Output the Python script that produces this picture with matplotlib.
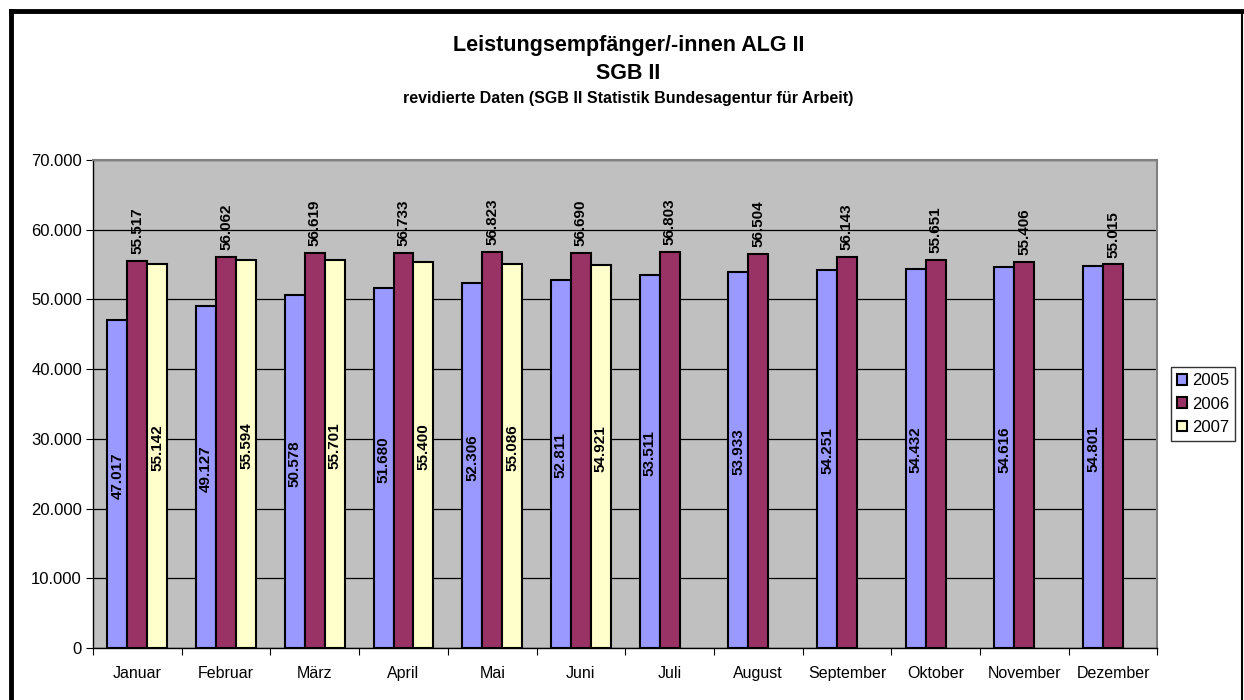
import numpy as np
import matplotlib
matplotlib.use("Agg")
import matplotlib.pyplot as plt
from matplotlib.lines import Line2D
from matplotlib.ticker import FuncFormatter

plt.rcParams['font.family'] = ['Liberation Sans', 'DejaVu Sans']

# data
months = ['Januar', 'Februar', 'März', 'April', 'Mai', 'Juni', 'Juli',
          'August', 'September', 'Oktober', 'November', 'Dezember']
v2005 = [47017, 49127, 50578, 51680, 52306, 52811, 53511, 53933, 54251, 54432, 54616, 54801]
v2006 = [55517, 56062, 56619, 56733, 56823, 56690, 56803, 56504, 56143, 55651, 55406, 55015]
v2007 = [55142, 55594, 55701, 55400, 55086, 54921]

def de_fmt(v):
    return f'{v:,.0f}'.replace(',', '.')

fig = plt.figure(figsize=(12.44, 7.0), dpi=100)
ax = fig.add_axes([0.0748, 0.0743, 0.8556, 0.6971])
ax.set_facecolor('#C0C0C0')

x = np.arange(len(months))
w = 0.225
b05 = ax.bar(x - w, v2005, w, color='#9999FF', edgecolor='black', linewidth=1.5, label='2005', zorder=3)
b06 = ax.bar(x, v2006, w, color='#993366', edgecolor='black', linewidth=1.5, label='2006', zorder=3)
b07 = ax.bar(x[:len(v2007)] + w, v2007, w, color='#FFFFCC', edgecolor='black', linewidth=1.5, label='2007', zorder=3)

lab_kw = dict(rotation=90, fontsize=11, fontweight='bold')
for xi, v in zip(x - w, v2005):
    ax.text(xi, v / 2 + 1200, de_fmt(v), ha='center', va='center', zorder=4, **lab_kw)
for xi, v in zip(x[:len(v2007)] + w, v2007):
    ax.text(xi, v / 2 + 1200, de_fmt(v), ha='center', va='center', zorder=4, **lab_kw)
for xi, v in zip(x, v2006):
    ax.annotate(de_fmt(v), (xi, v), xytext=(0, 5), textcoords='offset points',
                ha='center', va='bottom', zorder=4, **lab_kw)

ax.set_xlim(-0.5, len(months) - 0.5)
ax.set_ylim(0, 70000)
ax.set_yticks(np.arange(0, 70001, 10000))
ax.yaxis.set_major_formatter(FuncFormatter(lambda v, p: de_fmt(v)))
ax.yaxis.grid(True, color='black', linewidth=0.9, zorder=1)
ax.set_axisbelow(True)

ax.set_xticks(np.arange(-0.5, len(months), 1))
ax.set_xticklabels([])
ax.set_xticks(x, minor=True)
ax.set_xticklabels(months, minor=True, fontsize=11.5)
ax.tick_params(axis='x', which='minor', length=0, pad=13)
ax.tick_params(axis='x', which='major', length=5, direction='out')
ax.tick_params(axis='y', length=5, direction='out', labelsize=12, pad=3)

for s in ['top', 'right']:
    ax.spines[s].set_color('#808080')
    ax.spines[s].set_linewidth(1.5)
for s in ['left', 'bottom']:
    ax.spines[s].set_color('black')
    ax.spines[s].set_linewidth(1.0)

leg = ax.legend(loc='center left', bbox_to_anchor=(1.013, 0.5), fontsize=12,
                frameon=True, fancybox=False, edgecolor='black',
                handlelength=0.6, handleheight=0.6, handletextpad=0.3,
                borderpad=0.35, labelspacing=0.5, borderaxespad=0)
leg.get_frame().set_linewidth(1.0)

fig.text(0.505, 0.935, 'Leistungsempfänger/-innen ALG II', ha='center', va='center',
         fontsize=15.5, fontweight='bold')
fig.text(0.505, 0.895, 'SGB II', ha='center', va='center', fontsize=15.5, fontweight='bold')
fig.text(0.505, 0.859, 'revidierte Daten (SGB II Statistik Bundesagentur für Arbeit)',
         ha='center', va='center', fontsize=11.5, fontweight='bold')

# outer chart frame
fig.add_artist(Line2D([0.0085, 0.0085], [-0.01, 0.985], transform=fig.transFigure, color='black', linewidth=3.5))
fig.add_artist(Line2D([0.0085, 0.9985], [0.985, 0.985], transform=fig.transFigure, color='black', linewidth=3.5))
fig.add_artist(Line2D([0.9985, 0.9985], [-0.01, 0.985], transform=fig.transFigure, color='black', linewidth=1.5))

fig.savefig('out.png', dpi=100)
